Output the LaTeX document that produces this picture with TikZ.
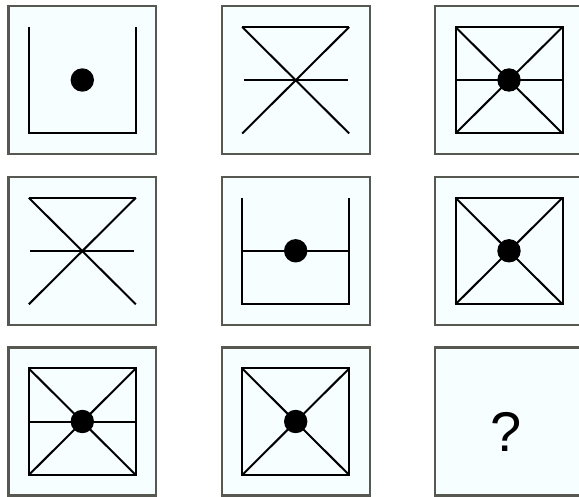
\documentclass[tikz,border=0pt]{standalone}
\usepackage{fontspec}
\setmainfont{Liberation Sans}
\definecolor{cellfill}{RGB}{246,254,255}
\definecolor{cellframe}{RGB}{88,88,82}
\tikzset{
  cellbox/.style={draw=cellframe, fill=cellfill, line width=2.2pt},
  figline/.style={draw=black, line width=2pt},
  dotmark/.style={fill=black},
  pics/uform/.style={code={
    \draw[figline] (21.5,22) -- (21.5,128.5) -- (128.5,128.5) -- (128.5,22);
  }},
  pics/hourglass/.style={code={
    \draw[figline] (21.5,22) -- (128.5,22);
    \draw[figline] (21.5,22) -- (128.5,128.5);
    \draw[figline] (128.5,22) -- (21.5,128.5);
    \draw[figline] (23,75) -- (127,75);
  }},
  pics/xsquare/.style={code={
    \draw[figline] (21.5,22) rectangle (128.5,128.5);
    \draw[figline] (21.5,22) -- (128.5,128.5);
    \draw[figline] (128.5,22) -- (21.5,128.5);
  }},
  pics/midline/.style={code={
    \draw[figline] (21.5,75) -- (128.5,75);
  }},
  pics/centerdot/.style={code={
    \fill[dotmark] (75,75) circle (11.7);
  }},
  pics/cellframe/.style={code={
    \draw[cellbox] (1.1,1.1) rectangle (148.9,148.9);
  }}
}
\begin{document}
\begin{tikzpicture}[x=1pt,y=-1pt]
\useasboundingbox (0,0) rectangle (579,497);
% row 1
\begin{scope}[shift={(7.3,5)}]
  \pic {cellframe}; \pic {uform}; \pic {centerdot};
\end{scope}
\begin{scope}[shift={(220.7,5)}]
  \pic {cellframe}; \pic {hourglass};
\end{scope}
\begin{scope}[shift={(434,5)}]
  \pic {cellframe}; \pic {xsquare}; \pic {midline}; \pic {centerdot};
\end{scope}
% row 2
\begin{scope}[shift={(7.3,175.8)}]
  \pic {cellframe}; \pic {hourglass};
\end{scope}
\begin{scope}[shift={(220.7,175.8)}]
  \pic {cellframe}; \pic {uform}; \pic {midline}; \pic {centerdot};
\end{scope}
\begin{scope}[shift={(434,175.8)}]
  \pic {cellframe}; \pic {xsquare}; \pic {centerdot};
\end{scope}
% row 3
\begin{scope}[shift={(7.3,346.5)}]
  \pic {cellframe}; \pic {xsquare}; \pic {midline}; \pic {centerdot};
\end{scope}
\begin{scope}[shift={(220.7,346.5)}]
  \pic {cellframe}; \pic {xsquare}; \pic {centerdot};
\end{scope}
\begin{scope}[shift={(434,346.5)}]
  \pic {cellframe};
  \node (qmark) at (72,85.5) {\fontsize{56}{60}\selectfont ?};
\end{scope}
\end{tikzpicture}
\end{document}
